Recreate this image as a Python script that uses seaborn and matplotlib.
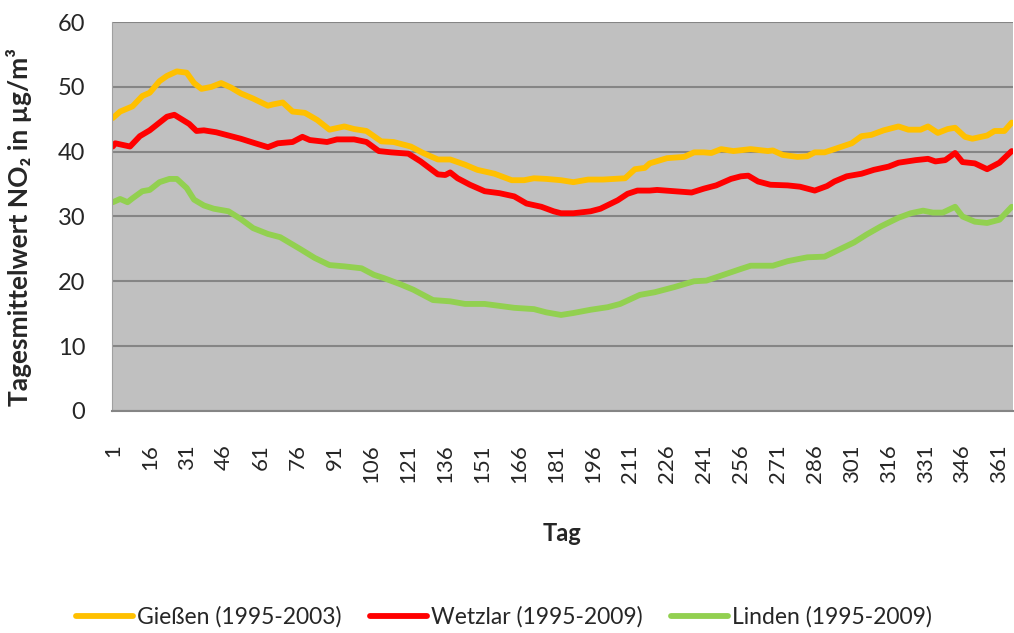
import numpy as np
import pandas as pd
import matplotlib
matplotlib.use("Agg")
import matplotlib.pyplot as plt
import seaborn as sns

# Werte (Tag, Tagesmittelwert NO2)
giessen_tag = [1, 4, 9, 13, 16, 20, 23, 27, 31, 34, 37, 41, 45, 49, 53, 58, 64, 66, 70, 74,
               79, 84, 89, 95, 99, 104, 110, 115, 122, 127, 133, 138, 144, 149, 156, 163, 168,
               172, 177, 183, 188, 194, 200, 209, 213, 217, 219, 226, 233, 237, 241, 244, 248,
               253, 260, 267, 269, 273, 279, 283, 286, 290, 294, 301, 305, 309, 314, 320, 324,
               329, 332, 336, 340, 343, 347, 350, 356, 359, 363, 366]
giessen_wert = [45.2, 46.2, 47.0, 48.6, 49.1, 50.9, 51.7, 52.4, 52.2, 50.6, 49.7, 50.0, 50.6,
                49.9, 49.0, 48.2, 47.1, 47.3, 47.6, 46.2, 46.0, 44.9, 43.4, 43.9, 43.5, 43.2,
                41.6, 41.5, 40.8, 39.8, 38.8, 38.8, 38.0, 37.2, 36.6, 35.6, 35.6, 35.9, 35.8,
                35.6, 35.3, 35.7, 35.7, 35.9, 37.3, 37.5, 38.2, 39.0, 39.2, 39.9, 39.9, 39.8,
                40.4, 40.1, 40.4, 40.1, 40.2, 39.5, 39.2, 39.3, 39.9, 39.9, 40.4, 41.3, 42.4,
                42.6, 43.3, 43.9, 43.4, 43.4, 43.9, 42.9, 43.5, 43.7, 42.3, 42.0, 42.5, 43.2,
                43.2, 44.5]

wetzlar_tag = [1, 2, 8, 12, 16, 20, 23, 26, 29, 32, 35, 38, 43, 48, 53, 58, 64, 68, 74, 78,
               81, 88, 92, 99, 104, 109, 114, 121, 126, 133, 136, 138, 141, 146, 152, 158, 164,
               169, 175, 180, 183, 188, 195, 199, 206, 210, 214, 219, 222, 229, 236, 241, 246,
               252, 256, 259, 263, 268, 275, 280, 286, 291, 294, 299, 305, 310, 316, 320, 327,
               332, 335, 339, 343, 346, 351, 356, 361, 366]
wetzlar_wert = [40.8, 41.3, 40.8, 42.4, 43.3, 44.5, 45.4, 45.7, 45.0, 44.3, 43.2, 43.3, 43.0,
                42.5, 42.0, 41.4, 40.7, 41.3, 41.5, 42.3, 41.8, 41.5, 41.9, 41.9, 41.5, 40.1,
                39.9, 39.7, 38.5, 36.5, 36.4, 36.8, 35.9, 34.9, 33.9, 33.6, 33.1, 32.0, 31.5,
                30.8, 30.5, 30.5, 30.8, 31.2, 32.5, 33.5, 34.0, 34.0, 34.1, 33.9, 33.7, 34.3,
                34.8, 35.8, 36.2, 36.3, 35.4, 34.9, 34.8, 34.6, 34.0, 34.7, 35.4, 36.2, 36.6,
                37.2, 37.7, 38.3, 38.7, 38.9, 38.5, 38.7, 39.8, 38.4, 38.2, 37.3, 38.3, 40.1]

linden_tag = [1, 4, 7, 9, 13, 16, 20, 24, 27, 31, 34, 38, 42, 48, 53, 58, 64, 69, 77, 83,
              89, 95, 102, 107, 111, 118, 123, 131, 138, 144, 152, 158, 164, 172, 177, 183,
              188, 195, 202, 207, 215, 221, 229, 237, 242, 249, 256, 260, 269, 275, 283, 290,
              296, 302, 307, 313, 320, 325, 330, 334, 338, 343, 346, 351, 356, 361, 366]
linden_wert = [32.2, 32.7, 32.2, 32.8, 33.9, 34.1, 35.3, 35.8, 35.8, 34.4, 32.6, 31.7, 31.2,
               30.8, 29.6, 28.2, 27.3, 26.8, 25.0, 23.6, 22.5, 22.3, 22.0, 21.0, 20.5, 19.5,
               18.7, 17.1, 16.9, 16.5, 16.5, 16.2, 15.9, 15.7, 15.2, 14.8, 15.1, 15.6, 16.0,
               16.5, 17.9, 18.3, 19.1, 20.0, 20.1, 21.0, 21.9, 22.4, 22.4, 23.1, 23.7, 23.8,
               24.9, 26.0, 27.2, 28.5, 29.8, 30.5, 30.9, 30.6, 30.6, 31.5, 30.0, 29.2, 29.0,
               29.5, 31.5]

labels = ["Gießen (1995-2003)", "Wetzlar (1995-2009)", "Linden (1995-2009)"]
colors = ["#FFC000", "#FF0000", "#92D050"]
x_ticks = list(range(1, 362, 15))

sns.set_style("white")
plt.rcParams["font.family"] = ["Lato", "DejaVu Sans"]

fig = plt.figure(figsize=(10.14, 6.33), dpi=100)
ax = fig.add_axes([0.110, 0.351, 0.889, 0.614])
ax.set_facecolor("#C0C0C0")

serien = [(giessen_tag, giessen_wert), (wetzlar_tag, wetzlar_wert), (linden_tag, linden_wert)]
for (tag, wert), label, color in zip(serien, labels, colors):
    df = pd.DataFrame({"Tag": tag, "Wert": wert})
    sns.lineplot(data=df, x="Tag", y="Wert", ax=ax, color=color, linewidth=4.2, label=label)

ax.set_xlim(0.5, 366.5)
ax.set_ylim(0, 60)
ax.set_yticks(range(0, 61, 10))
ax.set_xticks(x_ticks)
ax.set_xticklabels([str(t) for t in x_ticks], rotation=90, fontsize=16, color="#262626")
ax.tick_params(axis="y", labelsize=17, length=0, pad=19, labelcolor="#262626")
ax.tick_params(axis="x", length=0, pad=24)
ax.grid(axis="y", color="#858585", linewidth=1.5)
ax.set_axisbelow(True)
for side in ["top", "right"]:
    ax.spines[side].set_visible(False)
ax.spines["left"].set_color("#A0A0A0")
ax.spines["bottom"].set_color("#858585")
ax.spines["bottom"].set_linewidth(1.5)

ax.set_xlabel("Tag", fontsize=17, fontweight="bold", labelpad=28)
ax.set_ylabel("Tagesmittelwert NO₂ in µg/m³", fontsize=19, fontweight="bold")
ax.yaxis.set_label_coords(-0.088, 0.473)

leg = ax.legend(loc="center", bbox_to_anchor=(0.435, -0.531), ncol=3, frameon=False,
                fontsize=16.5, handlelength=2.5, handletextpad=0.15, columnspacing=1.25)
for text in leg.get_texts():
    text.set_color("#262626")

plt.savefig("out.png", dpi=100)
